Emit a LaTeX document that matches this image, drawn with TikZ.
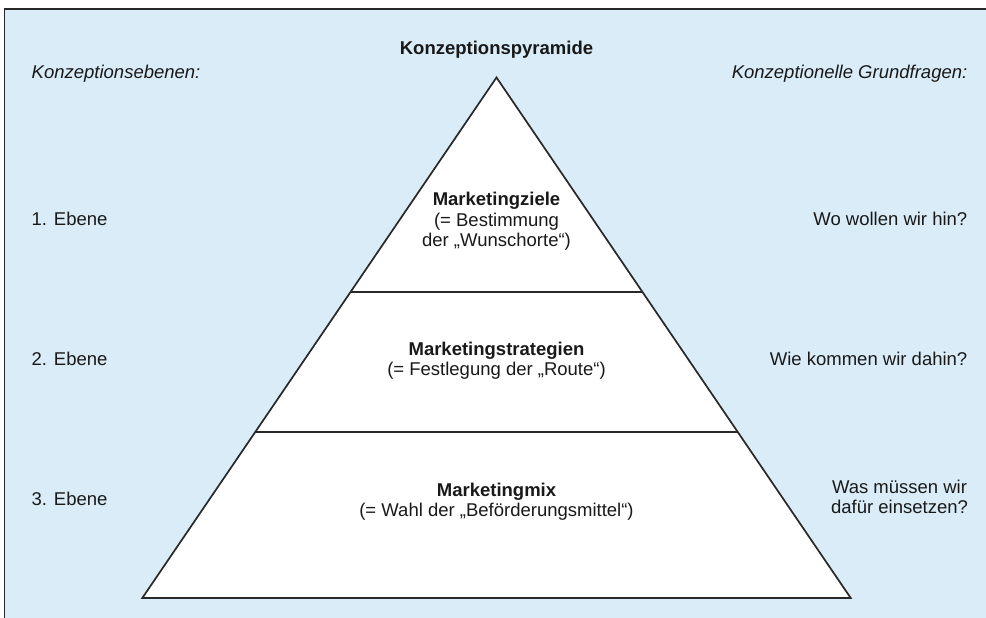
\documentclass[tikz,border=0pt]{standalone}
\usepackage{fontspec}
\setmainfont{Liberation Sans}
\definecolor{panelblue}{RGB}{217,236,248}
\definecolor{edgegray}{RGB}{40,40,40}
\begin{document}
\begin{tikzpicture}[x=1pt,y=-1pt,
  txt/.style={font=\fontsize{18.5}{20}\selectfont,inner sep=0pt,anchor=base,text=black!90},
  lefttxt/.style={txt,anchor=base west},
  righttxt/.style={txt,anchor=base east},
  heading/.style={txt,font=\fontsize{18.5}{20}\selectfont\itshape},
  title/.style={txt,font=\fontsize{18.5}{20}\selectfont\bfseries},
  pyrline/.style={draw=edgegray,line width=1.7pt,line join=miter}]
\useasboundingbox (0,0) rectangle (986,618);
% panel with top and left border
\fill[panelblue] (4.5,9) rectangle (990,622);
\draw[edgegray,line width=1.7pt] (4.5,622) -- (4.5,9) -- (990,9);

% pyramid
\coordinate (apex) at (496.5,77.5);
\coordinate (bl) at (142.3,598);
\coordinate (br) at (850.7,598);
\coordinate (l1) at (350.8,291.7);
\coordinate (r1) at (642.2,291.7);
\coordinate (l2) at (255.6,432);
\coordinate (r2) at (737.4,432);
\filldraw[pyrline,fill=white] (apex) -- (br) -- (bl) -- cycle;
\draw[pyrline] (l1) -- (r1);
\draw[pyrline] (l2) -- (r2);

% headings
\node[title] (ttl) at (496.5,55) {Konzeptionspyramide};
\node[heading,anchor=base west] (hl) at (31.5,78) {Konzeptionsebenen:};
\node[heading,anchor=base east] (hr) at (967.5,78) {Konzeptionelle Grundfragen:};

% levels
\node[lefttxt] (e1) at (31.5,225.5) {1. Ebene};
\node[lefttxt] (e2) at (31.5,365.5) {2. Ebene};
\node[lefttxt] (e3) at (31.5,505.5) {3. Ebene};

% questions
\node[righttxt] (q1) at (967.5,225.5) {Wo wollen wir hin?};
\node[righttxt] (q2) at (967.5,365.5) {Wie kommen wir dahin?};
\node[txt] (q3a) at (899.5,493.5) {Was müssen wir};
\node[txt] (q3b) at (899.5,513.5) {dafür einsetzen?};

% pyramid contents
\node[title] (m1) at (496.5,205.5) {Marketingziele};
\node[txt] (m1a) at (496.5,226.5) {(= Bestimmung};
\node[txt] (m1b) at (496.5,246.5) {der „Wunschorte“)};
\node[title] (m2) at (496.5,355.5) {Marketingstrategien};
\node[txt] (m2a) at (496.5,375.5) {(= Festlegung der „Route“)};
\node[title] (m3) at (496.5,496) {Marketingmix};
\node[txt] (m3a) at (496.5,516) {(= Wahl der „Beförderungsmittel“)};
\end{tikzpicture}
\end{document}
